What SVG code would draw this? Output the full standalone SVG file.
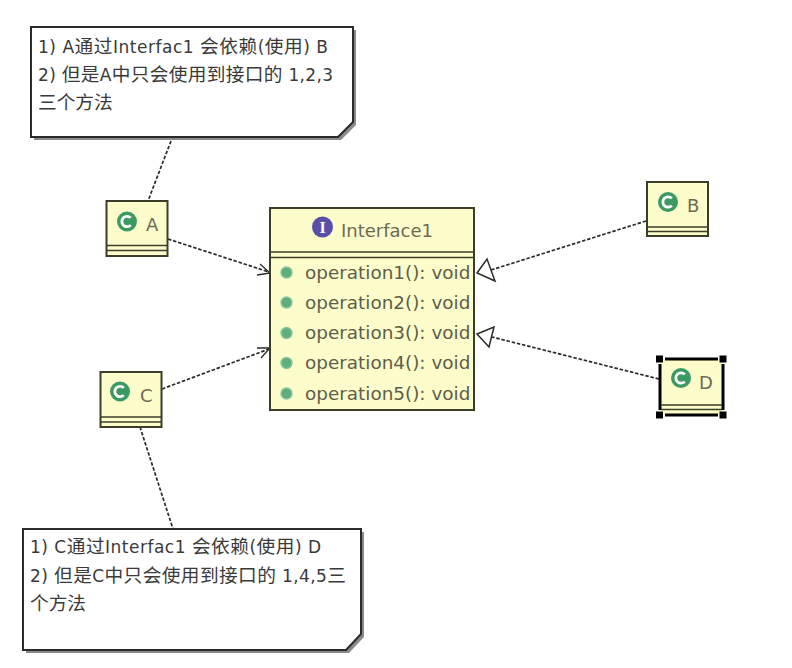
<svg xmlns="http://www.w3.org/2000/svg" width="792" height="668" viewBox="0 0 792 668">
<style>
.box{fill:#fdfccb;stroke:#3d3d2c;stroke-width:2}
.sep{stroke:#3d3d2c;stroke-width:1.6;fill:none}
.note{fill:#fff;stroke:#2a2a2a;stroke-width:2}
.shadow{fill:#8a8a8a;stroke:none}
.nt{font:17px "DejaVu Sans","Noto Sans CJK SC",sans-serif;fill:#3a3a3a}
.cj{font-family:"Noto Sans CJK SC",sans-serif;font-size:18.700px}
.cl{font:18px "DejaVu Sans",sans-serif;fill:#6b6b55}
.op{font:18.400px "DejaVu Sans",sans-serif;fill:#5e5e4a}
.dash{fill:none;stroke:#2a2a2a;stroke-width:1.700;stroke-dasharray:3.500 1.800}
.head{fill:none;stroke:#2a2a2a;stroke-width:1.300}
.tri{fill:#fff;stroke:#2a2a2a;stroke-width:1.500}
.h{fill:#000}
</style>
<defs>
<g id="cicon"><circle r="10" fill="#3a9a62"/><path d="M3.800 -3.600A5.200 5.200 0 1 0 3.800 3.600" stroke="#fff" stroke-width="2.800" fill="none"/></g>
<g id="opdot"><circle r="5.500" fill="#5fae7d" stroke="#8cc5a2" stroke-width="1.400"/></g>
</defs>
<g id="connectors">
<path class="dash" d="M171 141L148 201"/>
<path class="dash" d="M168 239L269 272"/>
<path class="head" d="M257 275L270 273L260 264"/>
<path class="dash" d="M162 389L269 349"/>
<path class="head" d="M257 348L270 348L261 358"/>
<path class="dash" d="M140 427L173 529"/>
<path class="dash" d="M646 221L491 270"/>
<path class="tri" d="M477 273L487 259L495 281Z"/>
<path class="dash" d="M659 379L492 337"/>
<path class="tri" d="M477 334L494 327L489 347Z"/>
</g>
<g id="note1">
<path class="shadow" d="M34 30H356V125L341 140H34Z"/>
<path class="note" d="M31 27H353V122L338 137H31Z"/>
<text class="nt" x="38" y="53" textLength="290">1) A<tspan class="cj">通过</tspan>Interfac1 <tspan class="cj">会依赖</tspan>(<tspan class="cj">使用</tspan>) B</text>
<text class="nt" x="38" y="81" textLength="295">2) <tspan class="cj">但是</tspan>A<tspan class="cj">中只会使用到接口的</tspan> 1,2,3</text>
<text class="nt" x="38" y="109"><tspan class="cj">三个方法</tspan></text>
</g>
<g id="note2">
<path class="shadow" d="M26 532H364V637L349 653H26Z"/>
<path class="note" d="M23 529H361V634L346 650H23Z"/>
<text class="nt" x="30" y="553" textLength="291">1) C<tspan class="cj">通过</tspan>Interfac1 <tspan class="cj">会依赖</tspan>(<tspan class="cj">使用</tspan>) D</text>
<text class="nt" x="30" y="582" textLength="316">2) <tspan class="cj">但是</tspan>C<tspan class="cj">中只会使用到接口的</tspan> 1,4,5<tspan class="cj">三</tspan></text>
<text class="nt" x="30" y="610"><tspan class="cj">个方法</tspan></text>
</g>
<g id="A">
<rect class="box" x="106.500" y="201" width="61" height="55"/>
<path class="sep" d="M107 245.500H167M107 250.500H167"/>
<use href="#cicon" x="127" y="221.500"/>
<text class="cl" x="146" y="231">A</text>
</g>
<g id="C">
<rect class="box" x="100.500" y="372" width="61" height="55"/>
<path class="sep" d="M101 417H161M101 422H161"/>
<use href="#cicon" x="120" y="391.500"/>
<text class="cl" x="140" y="402">C</text>
</g>
<g id="B">
<rect class="box" x="647" y="182" width="61" height="54"/>
<path class="sep" d="M647 227H708M647 231.500H708"/>
<use href="#cicon" x="668" y="202"/>
<text class="cl" x="687" y="212">B</text>
</g>
<g id="D">
<rect x="660" y="359" width="63" height="56" fill="#fdfccb"/>
<path d="M665 359H718M665 415H718M660 364V410M723 364V410" stroke="#000" stroke-width="3" fill="none"/>
<path class="sep" d="M661 405H722M661 409.500H722"/>
<use href="#cicon" x="681" y="378"/>
<text class="cl" x="699" y="389">D</text>
<rect class="h" x="656" y="355.500" width="7" height="7"/>
<rect class="h" x="719.500" y="355.500" width="7" height="7"/>
<rect class="h" x="656" y="411.500" width="7" height="7"/>
<rect class="h" x="719.500" y="411.500" width="7" height="7"/>
</g>
<g id="Interface1">
<rect class="box" x="270" y="208" width="204" height="202"/>
<path class="sep" d="M270 252H474M270 257.500H474"/>
<circle cx="322.500" cy="227" r="10.500" fill="#5a4fa8"/>
<text x="322.500" y="232.500" text-anchor="middle" font-family="Liberation Serif,serif" font-weight="bold" font-size="16" fill="#fff">I</text>
<text class="cl" x="341" y="237">Interface1</text>
<use href="#opdot" x="286.500" y="272.500"/>
<text class="op" x="305" y="279">operation1(): void</text>
<use href="#opdot" x="286.500" y="302.500"/>
<text class="op" x="305" y="309">operation2(): void</text>
<use href="#opdot" x="286.500" y="333"/>
<text class="op" x="305" y="339">operation3(): void</text>
<use href="#opdot" x="286.500" y="363"/>
<text class="op" x="305" y="369">operation4(): void</text>
<use href="#opdot" x="286.500" y="393.500"/>
<text class="op" x="305" y="400">operation5(): void</text>
</g>
</svg>
